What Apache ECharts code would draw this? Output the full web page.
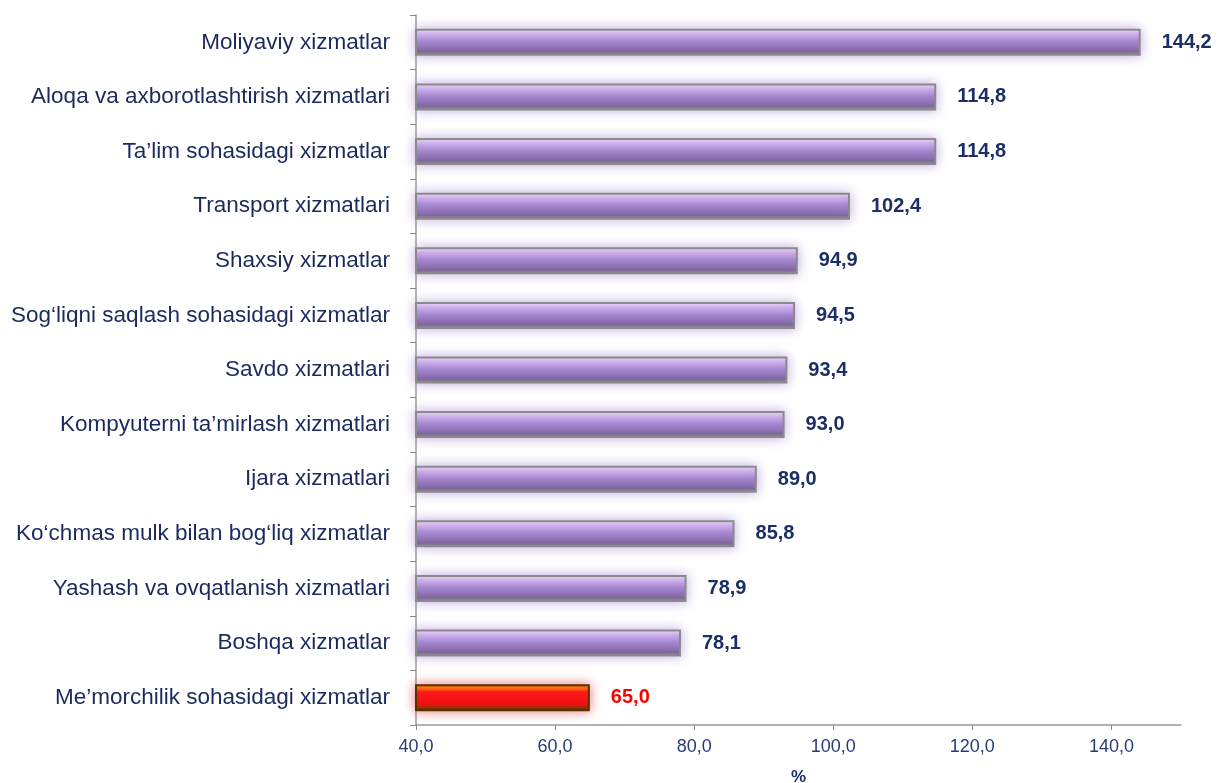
<!DOCTYPE html>
<html><head><meta charset="utf-8">
<script src="https://cdn.jsdelivr.net/npm/echarts@6/dist/echarts.min.js"></script>
<style>html,body{margin:0;padding:0;background:#fff}#c{width:1218px;height:783px}</style>
</head><body><div id="c"></div>
<script>
const categories = [
  "Moliyaviy xizmatlar",
  "Aloqa va axborotlashtirish xizmatlari",
  "Ta’lim sohasidagi xizmatlar",
  "Transport xizmatlari",
  "Shaxsiy xizmatlar",
  "Sog‘liqni saqlash sohasidagi xizmatlar",
  "Savdo xizmatlari",
  "Kompyuterni ta’mirlash xizmatlari",
  "Ijara xizmatlari",
  "Ko‘chmas mulk bilan bog‘liq xizmatlar",
  "Yashash va ovqatlanish xizmatlari",
  "Boshqa xizmatlar",
  "Me’morchilik sohasidagi xizmatlar"
];
const values = [144.2, 114.8, 114.8, 102.4, 94.9, 94.5, 93.4, 93.0, 89.0, 85.8, 78.9, 78.1, 65.0];
const highlighted = ["Me’morchilik sohasidagi xizmatlar"];
const axisName = "%";

const fmt = v => Number(v).toFixed(1).replace('.', ',');
const purple = {type:'linear',x:0,y:0,x2:0,y2:1,colorStops:[
  {offset:0,color:'#f2e8fc'},{offset:0.2,color:'#d4b4f0'},{offset:0.45,color:'#a98bd2'},
  {offset:0.76,color:'#8a6cae'},{offset:0.84,color:'#7a6890'},{offset:1,color:'#9a9a9a'}]};
const red = {type:'linear',x:0,y:0,x2:0,y2:1,colorStops:[
  {offset:0,color:'#ff8a00'},{offset:0.18,color:'#ff6a10'},{offset:0.28,color:'#ff1a1a'},
  {offset:0.75,color:'#f01010'},{offset:0.85,color:'#8a3a00'},{offset:1,color:'#5a2a00'}]};

const data = values.map((v,i) => {
  const hi = highlighted.includes(categories[i]);
  return {
    value: v,
    itemStyle: hi ? {color: red, borderColor:'#5a3000', borderWidth:2,
                     shadowColor:'rgba(220,40,40,0.6)', shadowBlur:12}
                  : {color: purple, borderColor:'#8a8a8a', borderWidth:2,
                     shadowColor:'rgba(150,120,200,0.6)', shadowBlur:12},
    label: {color: hi ? '#ff0000' : '#1b2f66'}
  };
});

const chart = echarts.init(document.getElementById('c'));
chart.setOption({
  animation:false,
  grid:{left:416, right:37, top:15, bottom:58, containLabel:false, outerBoundsMode:'none'},
  xAxis:{type:'value', min:40, max:150, interval:20,
    name:axisName, nameLocation:'middle', nameGap:44,
    nameTextStyle:{color:'#1b2f66', fontSize:17, fontWeight:'bold', fontFamily:'Liberation Sans'},
    axisLine:{show:true, lineStyle:{color:'#9a9a9a', width:1.5}},
    axisTick:{show:true, length:5, lineStyle:{color:'#888'}},
    splitLine:{show:false},
    axisLabel:{formatter:fmt, color:'#2a3a7a', fontSize:18, fontFamily:'Liberation Sans', margin:13, showMaxLabel:false}
  },
  yAxis:{type:'category', data:categories, inverse:true,
    axisLine:{show:true, lineStyle:{color:'#9a9a9a', width:1.5}},
    axisTick:{show:true, length:6, lineStyle:{color:'#888'}},
    axisLabel:{color:'#1a2a5e', fontSize:22.5, fontFamily:'Liberation Sans', margin:26}
  },
  series:[{type:'bar', data:data, barWidth:27,
    label:{show:true, position:'right', distance:21, formatter:p=>fmt(p.value),
      fontSize:20, fontWeight:'bold', fontFamily:'Liberation Sans'}
  }]
});
</script></body></html>
